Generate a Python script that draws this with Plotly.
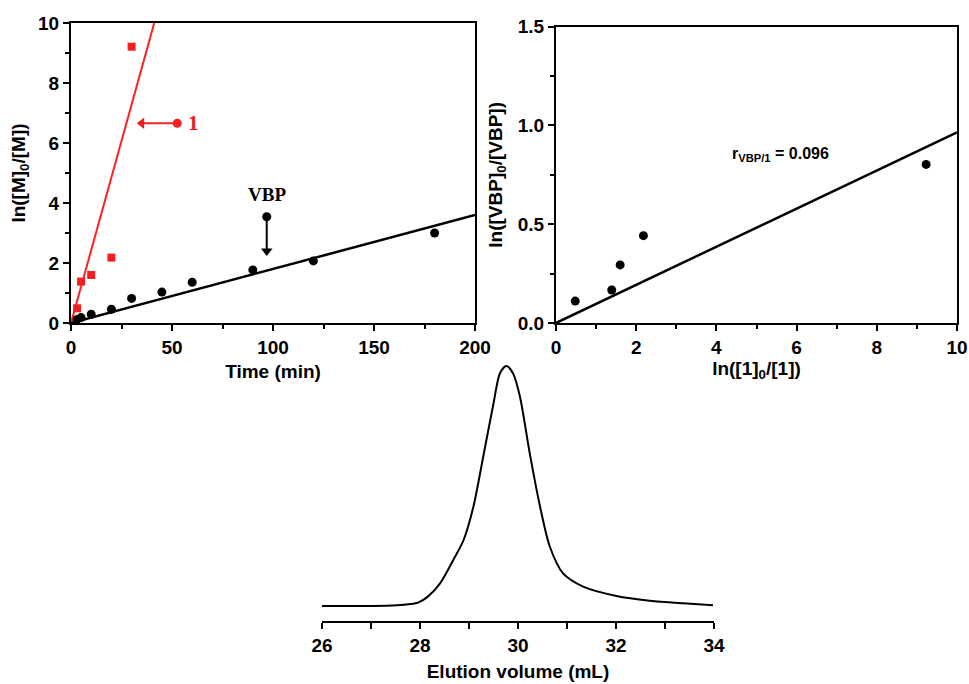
import plotly.graph_objects as go

# ---- data: panel A (kinetics) ----
t_vbp = [3, 5, 10, 20, 30, 45, 60, 90, 120, 180]
ln_vbp = [0.12, 0.18, 0.29, 0.46, 0.82, 1.03, 1.36, 1.77, 2.07, 3.0]
t_m1 = [3, 5, 10, 20, 30]
ln_m1 = [0.49, 1.38, 1.6, 2.18, 9.21]
fit_m1_x = [0, 41.2]
fit_m1_y = [0, 10]
fit_vbp_x = [0, 200]
fit_vbp_y = [0, 3.6]
arrow1_x = [52.6, 35.0]
arrow1_y = [6.66, 6.66]
arrow_vbp_x = [96.9, 96.9]
arrow_vbp_y = [3.54, 2.40]

# ---- data: panel B (reactivity ratio) ----
ln_1 = [0.48, 1.39, 1.60, 2.18, 9.23]
ln_vbp_b = [0.111, 0.167, 0.294, 0.442, 0.803]
fit_b_x = [0, 10]
fit_b_y = [0, 0.965]

# ---- data: panel C (GPC trace) ----
elution = [26.0, 27.0, 27.53, 27.8, 27.96, 28.16, 28.41, 28.68, 28.89, 29.09, 29.29, 29.50,
           29.63, 29.76, 29.90, 30.04, 30.24, 30.45, 30.65, 30.92, 31.33, 32.01,
           32.69, 33.37, 33.98]
signal = [0.0, 0.0, 0.003, 0.008, 0.014, 0.039, 0.094, 0.192, 0.275, 0.414, 0.622, 0.844,
          0.969, 1.0, 0.969, 0.872, 0.636, 0.414, 0.247, 0.136, 0.081, 0.042,
          0.022, 0.011, 0.003]

BF = "Liberation Sans"
SF = "Liberation Serif"
tickf = dict(family=BF, size=19, color="black", weight="bold")
titlef = dict(family=BF, size=19, color="black", weight="bold")
RED = "#f02020"

fig = go.Figure()

# panel A
fig.add_trace(go.Scatter(x=fit_m1_x, y=fit_m1_y, mode="lines", line=dict(color="#ff2020", width=2),
                         xaxis="x", yaxis="y", showlegend=False))
fig.add_trace(go.Scatter(x=fit_vbp_x, y=fit_vbp_y, mode="lines", line=dict(color="black", width=2.5),
                         xaxis="x", yaxis="y", showlegend=False))
fig.add_trace(go.Scatter(x=t_m1, y=ln_m1, mode="markers",
                         marker=dict(symbol="square", size=8, color=RED),
                         xaxis="x", yaxis="y", showlegend=False))
fig.add_trace(go.Scatter(x=t_vbp, y=ln_vbp, mode="markers",
                         marker=dict(symbol="circle", size=9, color="black"),
                         xaxis="x", yaxis="y", showlegend=False))
# arrows: shaft + head
fig.add_trace(go.Scatter(x=arrow1_x, y=arrow1_y, mode="lines+markers",
                         line=dict(color=RED, width=2),
                         marker=dict(symbol="triangle-left", size=[0, 10], color=RED, opacity=1,
                                     line=dict(width=0)),
                         xaxis="x", yaxis="y", showlegend=False))
fig.add_trace(go.Scatter(x=arrow_vbp_x, y=arrow_vbp_y, mode="lines+markers",
                         line=dict(color="black", width=2),
                         marker=dict(symbol="triangle-down", size=[0, 10], color="black", opacity=1,
                                     line=dict(width=0)),
                         xaxis="x", yaxis="y", showlegend=False))
# arrow tail dots
fig.add_trace(go.Scatter(x=arrow1_x[:1], y=arrow1_y[:1], mode="markers",
                         marker=dict(size=9, color=RED), xaxis="x", yaxis="y", showlegend=False))
fig.add_trace(go.Scatter(x=arrow_vbp_x[:1], y=arrow_vbp_y[:1], mode="markers",
                         marker=dict(size=9, color="black"), xaxis="x", yaxis="y", showlegend=False))

# panel B
fig.add_trace(go.Scatter(x=fit_b_x, y=fit_b_y, mode="lines", line=dict(color="black", width=2.5),
                         xaxis="x2", yaxis="y2", showlegend=False))
fig.add_trace(go.Scatter(x=ln_1, y=ln_vbp_b, mode="markers",
                         marker=dict(symbol="circle", size=9, color="black"),
                         xaxis="x2", yaxis="y2", showlegend=False))

# panel C
fig.add_trace(go.Scatter(x=elution, y=signal, mode="lines",
                         line=dict(color="black", width=2, shape="spline", smoothing=0.8),
                         xaxis="x3", yaxis="y3", showlegend=False))

W, H = 969, 684
def fx(px): return px / W
def fy(py): return 1 - py / H

common = dict(showline=True, linecolor="black", linewidth=2, ticks="outside", ticklen=6, tickwidth=2,
              tickcolor="black", showgrid=False, zeroline=False, tickfont=tickf, mirror=True,
              automargin=False)
minor_t = dict(ticks="outside", ticklen=4, tickwidth=2, tickcolor="black")

fig.update_layout(
    width=W, height=H, margin=dict(l=0, r=0, t=0, b=0, autoexpand=False),
    paper_bgcolor="white", plot_bgcolor="white",
    xaxis=dict(domain=[fx(71), fx(475)], range=[0, 200], dtick=50, anchor="y",
               minor=dict(dtick=25, **minor_t),
               title=dict(text="Time (min)", font=titlef, standoff=8), **common),
    yaxis=dict(domain=[fy(323), fy(23)], range=[0, 10], dtick=2, anchor="x",
               minor=dict(dtick=1, **minor_t),
               title=dict(text="ln([M]<sub>0</sub>/[M])", font=titlef, standoff=7), **common),
    xaxis2=dict(domain=[fx(556), fx(957)], range=[0, 10], dtick=2, anchor="y2",
                minor=dict(dtick=1, **minor_t),
                title=dict(text="ln([1]<sub>0</sub>/[1])", font=titlef, standoff=4), **common),
    yaxis2=dict(domain=[fy(323), fy(26.7)], range=[0, 1.5], dtick=0.5, tickformat=".1f", anchor="x2",
                minor=dict(dtick=0.25, **minor_t),
                title=dict(text="ln([VBP]<sub>0</sub>/[VBP])", font=titlef, standoff=10), **common),
    xaxis3=dict(domain=[fx(322), fx(714)], range=[26, 34], dtick=2, anchor="y3",
                showline=True, linecolor="black", linewidth=2, ticks="outside", ticklen=6, tickwidth=2,
                tickcolor="black", showgrid=False, zeroline=False, tickfont=tickf, automargin=False,
                minor=dict(dtick=1, ticks="outside", ticklen=6, tickwidth=2, tickcolor="black"),
                title=dict(text="Elution volume (mL)", font=titlef, standoff=10)),
    yaxis3=dict(domain=[fy(621), fy(354)], range=[-0.0625, 1.05], anchor="x3", visible=False,
                automargin=False),
    annotations=[
        dict(x=60.4, y=6.66, xref="x", yref="y", text="1", showarrow=False,
             font=dict(family=SF, size=21, color=RED, weight="bold")),
        dict(x=96.9, y=4.27, xref="x", yref="y", text="VBP", showarrow=False,
             font=dict(family=SF, size=19, color="black", weight="bold")),
        dict(x=5.59, y=0.855, xref="x2", yref="y2",
             text="r<sub>VBP/1</sub> = 0.096", showarrow=False,
             font=dict(family=BF, size=16, color="black", weight="bold")),
    ],
)

fig.write_html("out.html", config={"displayModeBar": False},
               post_script="document.body.style.margin='0';document.body.style.overflow='hidden';")
